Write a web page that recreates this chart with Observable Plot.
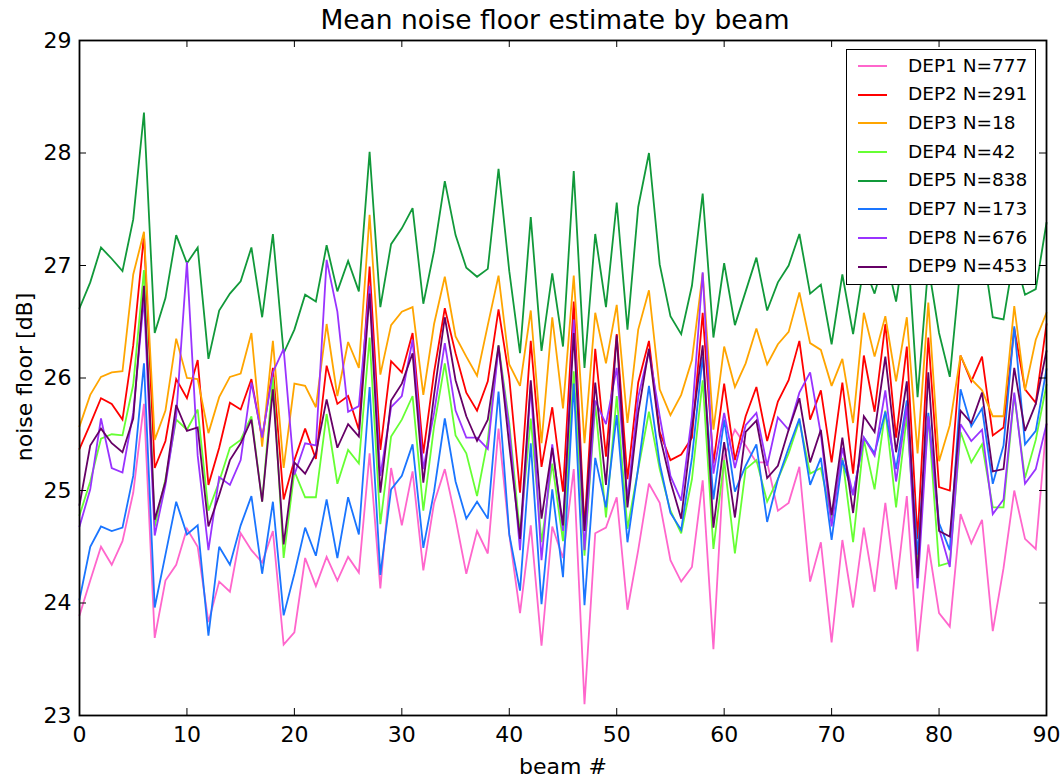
<!DOCTYPE html>
<html>
<head>
<meta charset="utf-8">
<script src="https://cdn.jsdelivr.net/npm/d3@7"></script>
<script src="https://cdn.jsdelivr.net/npm/@observablehq/plot@0.6"></script>
<style>
  html, body { margin: 0; padding: 0; background: #fff; }
  #wrap { position: relative; width: 1064px; height: 780px; font-family: "DejaVu Sans", sans-serif; }
  #legend { position: absolute; left: 846px; top: 49px; width: 190px; height: 236px; box-sizing: border-box;
            border: 1.8px solid #000; background: #fff; padding-top: 1.5px; }
  .row { position: relative; height: 28.7px; }
  .sw { position: absolute; left: 11px; top: 13.5px; width: 29px; height: 2px; }
  .lb { position: absolute; left: 61px; top: 0; line-height: 28.7px; font-size: 18.5px; color: #000; white-space: nowrap; }
  #ylabel { position: absolute; left: 25px; top: 377px; transform: translate(-50%, -50%) rotate(-90deg);
            font-size: 22px; color: #000; white-space: nowrap; line-height: 26px; }
</style>
</head>
<body>
<div id="wrap"></div>
<script>
const seriesNames = ["DEP1 N=777", "DEP2 N=291", "DEP3 N=18", "DEP4 N=42", "DEP5 N=838", "DEP7 N=173", "DEP8 N=676", "DEP9 N=453"];
const seriesColors = ["#ff66cc", "#ff0000", "#ffa500", "#66ff33", "#11993a", "#1a75ff", "#9933ff", "#660066"];
const xTicks = [0, 10, 20, 30, 40, 50, 60, 70, 80, 90];
const yTicks = [23, 24, 25, 26, 27, 28, 29];
const titleText = "Mean noise floor estimate by beam";
const xLabel = "beam #";
const yLabel = "noise floor [dB]";

const dep1 = [23.89,24.20,24.50,24.34,24.55,24.98,25.77,23.69,24.20,24.34,24.66,24.50,23.83,24.19,24.10,24.62,
  24.47,24.36,24.64,23.63,23.74,24.40,24.15,24.41,24.20,24.41,24.27,25.33,24.13,25.20,24.69,
  25.17,24.29,24.89,25.19,24.75,24.26,24.64,24.44,25.55,24.61,23.91,24.69,23.62,24.68,24.40,
  25.19,23.10,24.62,24.67,24.94,23.94,24.47,25.06,24.89,24.38,24.19,24.32,25.09,23.59,25.30,
  25.54,25.40,25.25,25.25,24.82,24.89,25.21,24.19,24.54,23.65,24.56,23.96,24.67,24.10,24.89,
  24.12,24.95,23.57,24.52,23.91,23.79,24.79,24.53,24.74,23.75,24.31,25.00,24.57,24.48,25.59];
const dep2 = [25.37,25.59,25.82,25.77,25.63,26.29,27.27,25.20,25.44,25.99,25.82,26.16,25.05,25.38,25.78,25.72,
  25.99,25.46,26.09,24.92,25.27,25.55,25.28,26.11,25.77,25.84,25.54,26.99,25.36,26.15,26.05,
  26.40,25.33,26.05,26.62,26.22,25.87,25.71,25.97,26.61,26.00,24.98,26.33,25.21,25.74,24.99,
  26.68,24.66,26.26,25.30,26.39,25.10,25.96,26.33,25.52,25.27,25.32,25.47,26.58,25.24,25.95,
  25.27,25.66,25.92,25.44,25.79,25.98,26.33,25.63,25.89,25.25,25.96,25.15,26.20,25.70,26.48,
  25.47,26.28,24.57,26.36,25.03,25.00,26.20,25.97,26.19,25.49,25.56,26.44,25.90,25.78,26.48];
const dep3 = [25.57,25.85,26.01,26.05,26.06,26.92,27.30,25.45,25.71,26.35,26.00,25.99,25.51,25.83,26.01,26.04,
  26.40,25.39,26.33,25.20,25.95,25.93,25.74,26.48,25.84,26.32,26.09,27.45,26.03,26.47,26.59,
  26.63,25.85,26.48,26.90,26.37,26.19,26.02,26.47,26.91,26.12,25.93,26.60,25.42,26.54,25.73,
  26.91,25.42,26.58,26.13,26.65,25.60,26.43,26.78,25.90,25.67,25.85,26.16,26.93,25.54,26.28,
  25.92,26.13,26.44,26.12,26.30,26.41,26.76,26.31,26.25,25.93,26.17,25.60,26.58,26.19,26.55,
  25.97,26.54,25.33,26.67,25.26,25.58,26.20,25.99,25.89,25.66,25.66,26.64,25.89,26.34,26.58];
const dep4 = [24.78,25.08,25.46,25.50,25.49,25.94,26.96,24.68,25.10,25.63,25.54,25.72,24.82,25.08,25.38,25.45,
  25.66,24.90,26.01,24.40,25.17,24.94,24.94,25.68,25.06,25.36,25.24,26.36,24.70,25.48,25.63,
  25.84,24.82,25.57,26.13,25.49,25.33,24.95,25.45,26.29,25.60,24.61,25.64,24.54,25.24,24.55,
  26.06,24.42,25.77,24.76,25.84,24.66,25.19,25.70,25.19,24.82,24.62,25.10,25.98,24.48,25.27,
  24.44,25.19,25.27,24.90,25.10,25.33,25.62,25.15,25.20,24.75,25.29,24.54,25.45,25.01,25.71,
  24.85,25.66,24.33,25.66,24.33,24.36,25.52,25.25,25.41,24.85,24.85,25.85,25.11,25.45,25.94];
const dep5 = [26.62,26.85,27.16,27.06,26.95,27.41,28.36,26.40,26.71,27.27,27.02,27.16,26.17,26.60,26.75,26.86,
  27.16,26.54,27.28,26.22,26.43,26.74,26.68,27.18,26.77,27.04,26.77,28.01,26.63,27.19,27.33,
  27.51,26.66,27.13,27.75,27.27,26.98,26.90,26.97,27.86,26.95,26.22,27.43,26.24,26.93,26.28,
  27.84,26.09,27.28,26.63,27.56,26.43,27.52,28.00,27.01,26.55,26.39,26.82,27.64,26.36,27.02,
  26.47,26.77,27.07,26.60,26.85,27.00,27.28,26.75,26.83,26.30,26.92,26.39,27.00,26.75,27.10,
  26.68,27.30,25.83,27.00,26.40,26.01,27.00,26.90,27.20,26.54,26.52,27.10,26.74,26.79,27.38];
const dep7 = [24.03,24.50,24.68,24.64,24.67,25.13,26.13,23.96,24.43,24.90,24.61,24.69,23.71,24.50,24.34,24.69,
  24.95,24.26,24.90,23.89,24.26,24.67,24.42,24.92,24.40,24.94,24.61,25.92,24.25,25.01,25.13,
  25.41,24.49,24.99,25.64,25.08,24.75,24.90,24.75,25.88,24.61,24.11,25.42,23.99,25.01,24.23,
  25.95,23.98,25.29,24.85,25.67,24.54,25.20,25.93,25.24,24.80,24.65,25.29,26.19,24.92,25.63,
  24.99,25.22,25.41,24.72,25.10,25.38,25.64,25.05,25.29,24.56,25.27,24.96,25.47,25.33,25.70,
  25.19,25.80,24.43,25.69,24.71,24.47,25.90,25.57,25.73,25.06,25.40,26.46,25.41,25.53,26.08];
const dep8 = [24.68,25.01,25.64,25.20,25.16,25.69,26.71,24.60,25.05,25.66,27.03,25.31,24.47,25.12,25.05,25.27,
  25.96,25.47,26.05,26.26,25.14,25.42,25.40,27.05,26.59,25.70,25.75,26.82,25.13,25.74,25.84,
  26.34,25.19,25.69,26.31,25.71,25.47,25.47,25.37,26.27,25.55,24.47,25.94,24.38,25.41,24.64,
  26.52,24.47,25.80,25.59,26.09,24.92,25.83,26.24,25.66,25.13,24.91,25.66,26.94,25.15,25.69,
  25.20,25.58,25.69,25.22,25.65,25.54,25.87,26.05,25.50,24.68,25.38,24.96,25.47,25.31,25.89,
  25.08,25.75,24.13,25.66,24.66,24.32,25.59,25.44,25.54,24.79,24.92,25.87,25.06,25.19,25.59];
const dep9 = [24.87,25.40,25.55,25.42,25.34,25.64,26.82,24.74,25.08,25.76,25.53,25.56,24.68,24.96,25.27,25.42,
  25.63,24.90,25.90,24.52,25.25,25.15,25.33,25.81,25.38,25.59,25.48,26.75,24.98,25.80,25.95,
  26.22,25.07,25.85,26.54,25.98,25.66,25.44,25.63,26.29,25.40,24.57,25.98,24.75,25.38,24.69,
  26.40,24.64,25.96,25.05,26.38,24.85,25.69,26.26,25.49,25.08,24.75,25.55,26.29,24.67,25.43,
  24.76,25.52,25.62,25.11,25.22,25.54,25.82,25.25,25.54,24.78,25.47,24.80,25.66,25.52,26.19,
  25.34,25.97,24.22,26.05,24.64,24.59,25.71,25.60,25.87,25.17,25.19,26.09,25.53,25.77,26.24];

const seriesValues = [dep1, dep2, dep3, dep4, dep5, dep7, dep8, dep9];
const table = [];
seriesValues.forEach((vals, i) => vals.forEach((v, b) => table.push({series: seriesNames[i], beam: b, value: v})));

const W = 1064, H = 780, mL = 79, mR = 18, mT = 40, mB = 65;
const fw = W - mL - mR, fh = H - mT - mB, tl = 7;

const chart = Plot.plot({
  width: W, height: H,
  marginLeft: mL, marginRight: mR, marginTop: mT, marginBottom: mB,
  style: {fontFamily: "DejaVu Sans, sans-serif", fontSize: "22px", color: "#000", background: "#fff"},
  x: {domain: [0, 90], ticks: xTicks, label: null},
  y: {domain: [23, 29], ticks: yTicks, label: null},
  color: {domain: seriesNames, range: seriesColors},
  marks: [
    Plot.line(table, {x: "beam", y: "value", z: "series", stroke: "series", strokeWidth: 1.8, strokeLinejoin: "miter", strokeMiterlimit: 3}),
    Plot.tickX(xTicks, {x: d => d, insetTop: fh - tl, stroke: "#000", strokeWidth: 1}),
    Plot.tickX(xTicks, {x: d => d, insetBottom: fh - tl, stroke: "#000", strokeWidth: 1}),
    Plot.tickY(yTicks, {y: d => d, insetRight: fw - tl, stroke: "#000", strokeWidth: 1}),
    Plot.tickY(yTicks, {y: d => d, insetLeft: fw - tl, stroke: "#000", strokeWidth: 1}),
    Plot.frame({stroke: "#000", strokeWidth: 1.8}),
    Plot.axisX({ticks: xTicks, tickSize: 0, tickPadding: 11, fontSize: 22, label: null, tickFormat: d => String(d)}),
    Plot.axisY({ticks: yTicks, tickSize: 0, tickPadding: 8, fontSize: 22, label: null, tickFormat: d => String(d)}),
    Plot.text([titleText], {text: d => d, frameAnchor: "top", dx: -8, dy: -30, fontSize: 26.5, fill: "#000"}),
    Plot.text([xLabel], {text: d => d, frameAnchor: "bottom", dy: 58, fontSize: 22, fill: "#000"})
  ]
});

const wrap = document.getElementById("wrap");
wrap.appendChild(chart);

const yl = document.createElement("div");
yl.id = "ylabel";
yl.textContent = yLabel;
wrap.appendChild(yl);

const legend = document.createElement("div");
legend.id = "legend";
seriesNames.forEach((name, i) => {
  const row = document.createElement("div");
  row.className = "row";
  const sw = document.createElement("div");
  sw.className = "sw";
  sw.style.background = seriesColors[i];
  const lb = document.createElement("div");
  lb.className = "lb";
  lb.textContent = name;
  row.appendChild(sw);
  row.appendChild(lb);
  legend.appendChild(row);
});
wrap.appendChild(legend);
</script>
</body>
</html>
